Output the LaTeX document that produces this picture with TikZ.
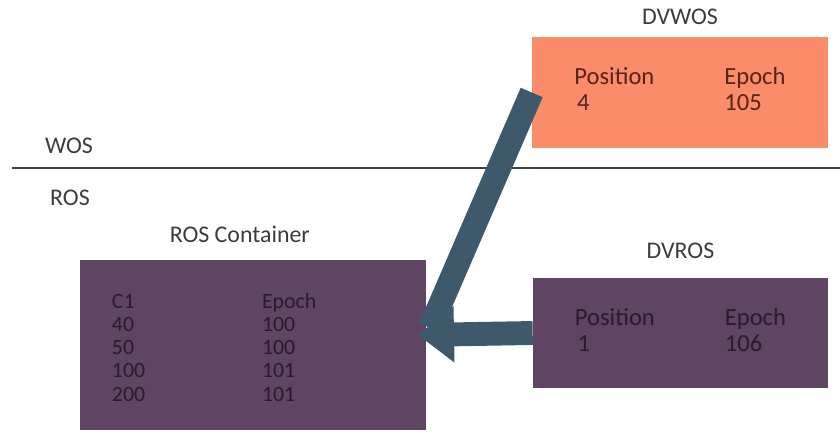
\documentclass[tikz,border=0pt]{standalone}
\usepackage{fontspec}
\setmainfont{Carlito}
\usetikzlibrary{positioning,arrows.meta}
\definecolor{wosC}{HTML}{FA8B6B}
\definecolor{rosC}{HTML}{5F4464}
\definecolor{moveC}{HTML}{3E596B}
\definecolor{wosInk}{HTML}{5A2317}
\definecolor{rosInk}{HTML}{2A1B2E}
\definecolor{titleInk}{HTML}{3C3C3C}
\tikzset{
  store/.style={rectangle, inner sep=0pt, font=\fontsize{17.5}{18.4}\selectfont},
  wosbox/.style={store, fill=wosC, text=wosInk, minimum width=7.4cm, minimum height=2.775cm},
  rosbox/.style={store, fill=rosC, text=rosInk, minimum width=7.375cm, minimum height=2.75cm},
  contbox/.style={store, fill=rosC, text=rosInk, font=\fontsize{15.5}{16.5}\selectfont,
                  minimum width=8.65cm, minimum height=4.25cm, text width=7.05cm,
                  align=left, inner xsep=0.8cm},
  boxtitle/.style={font=\fontsize{17}{19}\selectfont, text=titleInk, inner sep=0pt},
  feed/.style={line width=17pt, draw=moveC},
  flow/.style={feed, -{Triangle[length=0.9cm, width=1.35cm]}},
  divider/.style={draw=black!75, line width=0.9pt},
}

\begin{document}
\begin{tikzpicture}[x=0.025cm, y=-0.025cm]
\useasboundingbox (0,0) rectangle (840,432);
\coordinate (divl) at (12,168);
\coordinate (divr) at (840,168);
\draw[divider] (divl) -- (divr);
\node[boxtitle] (wosl) at (69,146) {WOS};
\node[boxtitle] (rosl) at (70,198) {ROS};
\node[wosbox] (dvwos) at (680,92.5)
 {\begin{tabular}{@{}p{3.75cm}@{}l@{}} Position & Epoch\\ \hspace{2pt}4 & 105 \end{tabular}};
\node[rosbox] (dvros) at (680.5,333)
 {\begin{tabular}{@{}p{3.75cm}@{}l@{}} Position & Epoch\\ \hspace{2pt}1 & 106 \end{tabular}};
\node[contbox] (roscont) at (253,345)
 {\begin{tabular}{@{}p{3.75cm}@{}l@{}}\noalign{\vspace{0.25cm}}
  C1  & Epoch\\
  40  & 100\\
  50  & 100\\
  100 & 101\\
  200 & 101
  \end{tabular}};
\node[boxtitle, above=0.43cm of roscont, xshift=-0.33cm] (conttitle) {ROS Container};
\node[boxtitle, above=0.3cm of dvwos] (dvwostitle) {DVWOS};
\node[boxtitle, above=0.46cm of dvros] (dvrostitle) {DVROS};
\coordinate (hit) at (418,335);
\coordinate (bend) at (430,328);
\draw[feed] (dvwos.west) -- (bend);
\draw[flow] (dvros.west) -- (hit);
\end{tikzpicture}
\end{document}
